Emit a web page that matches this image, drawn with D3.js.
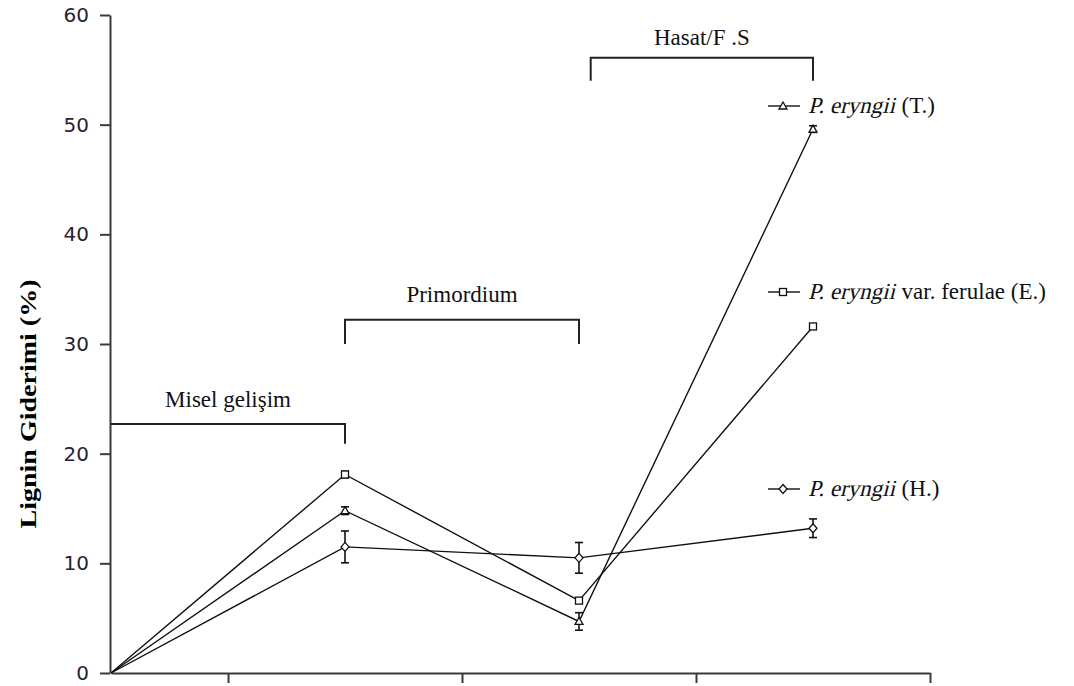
<!DOCTYPE html>
<html>
<head>
<meta charset="utf-8">
<script src="https://cdn.jsdelivr.net/npm/d3@7"></script>
<style>
  body { margin: 0; background: #fff; }
  svg { display: block; }
</style>
</head>
<body>
<div id="chart"></div>
<script>
// stages on the x axis (category index 0..3)
const stages = [0, 1, 2, 3];
const seriesT = [0, 14.8, 4.7, 49.6];
const errT = [0, 0.35, 0.8, 0.3];
const seriesE = [0, 18.1, 6.6, 31.6];
const errE = [0, 0.3, 0.2, 0.2];
const seriesH = [0, 11.5, 10.5, 13.2];
const errH = [0, 1.45, 1.4, 0.85];
const yTicks = [0, 10, 20, 30, 40, 50, 60];
const xTicks = [0.5, 1.5, 2.5, 3.5];

// stage brackets: from, to, top value, bottom value, label
const brackets = [
  {label: "Misel gelişim", x0: 0, x1: 1, top: 22.7, bottom: 20.9, leftDown: false, textY: 24.3},
  {label: "Primordium", x0: 1, x1: 2, top: 32.2, bottom: 30.0, leftDown: true, textY: 33.8},
  {label: "Hasat/F .S", x0: 2.05, x1: 3, top: 56.1, bottom: 54.0, leftDown: true, textY: 57.3}
];

const legendRows = [
  {name: "T", italic: "P. eryngii", rest: " (T.)", y: 106, marker: "triangle"},
  {name: "E", italic: "P. eryngii", rest: " var. ferulae (E.)", y: 292, marker: "square"},
  {name: "H", italic: "P. eryngii", rest: " (H.)", y: 489, marker: "diamond"}
];

const series = [
  {name: "T", values: seriesT, err: errT, marker: "triangle"},
  {name: "E", values: seriesE, err: errE, marker: "square"},
  {name: "H", values: seriesH, err: errH, marker: "diamond"}
];

const serif = "'Liberation Serif', 'Times New Roman', serif";

const W = 1074, H = 686;
const svg = d3.select("#chart").append("svg")
  .attr("width", W).attr("height", H)
  .style("background", "#fff");

const x = d3.scaleLinear().domain([0, 3.5]).range([111, 930]);
const y = d3.scaleLinear().domain([0, 60]).range([673, 15]);

// axes
const yAxis = svg.append("g")
  .attr("transform", "translate(110,0)")
  .call(d3.axisLeft(y).tickValues(yTicks).tickSize(10).tickPadding(11).tickSizeOuter(0));
yAxis.selectAll("text")
  .attr("font-family", "DejaVu Sans, Verdana, sans-serif")
  .attr("font-size", 20)
  .attr("fill", "#2a2230");

const xAxis = svg.append("g")
  .attr("transform", "translate(0,673)")
  .call(d3.axisBottom(x).tickValues(xTicks).tickSize(10).tickFormat("").tickSizeOuter(0));

svg.selectAll(".domain, .tick line")
  .attr("stroke", "#3a3a3a")
  .attr("stroke-width", 2);

// y axis title
svg.append("text")
  .attr("transform", `translate(36,${(279 + 529) / 2}) rotate(-90)`)
  .attr("text-anchor", "middle")
  .attr("font-family", serif)
  .attr("font-weight", "bold")
  .attr("font-size", 23)
  .attr("textLength", 249)
  .attr("lengthAdjust", "spacingAndGlyphs")
  .text("Lignin Giderimi (%)");

// stage brackets
const bg = svg.append("g")
  .attr("fill", "none")
  .attr("stroke", "#222")
  .attr("stroke-width", 2);
brackets.forEach(b => {
  let p = b.leftDown
    ? `M${x(b.x0)},${y(b.bottom)}V${y(b.top)}H${x(b.x1)}V${y(b.bottom)}`
    : `M${x(b.x0)},${y(b.top)}H${x(b.x1)}V${y(b.bottom)}`;
  bg.append("path").attr("d", p);
  svg.append("text")
    .attr("x", x((b.x0 + b.x1) / 2))
    .attr("y", y(b.textY))
    .attr("text-anchor", "middle")
    .attr("font-family", serif)
    .attr("font-size", 23)
    .attr("fill", "#111")
    .text(b.label);
});

// markers
function drawMarker(g, type, cx, cy) {
  if (type === "triangle") {
    g.append("path")
      .attr("d", `M${cx},${cy - 4}L${cx + 4},${cy + 3}L${cx - 4},${cy + 3}Z`);
  } else if (type === "square") {
    g.append("rect").attr("x", cx - 3.5).attr("y", cy - 3.5).attr("width", 7).attr("height", 7);
  } else {
    g.append("path")
      .attr("d", `M${cx},${cy - 4.5}L${cx + 4},${cy}L${cx},${cy + 4.5}L${cx - 4},${cy}Z`);
  }
}

const line = d3.line().x((d, i) => x(stages[i])).y(d => y(d));

series.forEach(s => {
  svg.append("path")
    .datum(s.values)
    .attr("d", line)
    .attr("fill", "none")
    .attr("stroke", "#111")
    .attr("stroke-width", 1.4);

  const eg = svg.append("g").attr("stroke", "#111").attr("stroke-width", 1.6);
  s.values.forEach((v, i) => {
    if (s.err[i] <= 0) return;
    const cx = x(stages[i]);
    eg.append("line").attr("x1", cx).attr("x2", cx).attr("y1", y(v - s.err[i])).attr("y2", y(v + s.err[i]));
    [v - s.err[i], v + s.err[i]].forEach(e => {
      eg.append("line").attr("x1", cx - 4).attr("x2", cx + 4).attr("y1", y(e)).attr("y2", y(e));
    });
  });

  const mg = svg.append("g").attr("fill", "#fff").attr("stroke", "#111").attr("stroke-width", 1.3);
  s.values.forEach((v, i) => {
    if (i === 0) return;
    drawMarker(mg, s.marker, x(stages[i]), y(v));
  });
});

// legend (italic part drawn as slanted serif so it stays Times-like)
legendRows.forEach(r => {
  svg.append("line")
    .attr("x1", 768).attr("x2", 800).attr("y1", r.y).attr("y2", r.y)
    .attr("stroke", "#111").attr("stroke-width", 1.4);
  const mg = svg.append("g").attr("fill", "#fff").attr("stroke", "#111").attr("stroke-width", 1.3);
  drawMarker(mg, r.marker, 783, r.y);
  const by = r.y + 7;
  const it = svg.append("text")
    .attr("transform", `translate(808,${by}) skewX(-14)`)
    .attr("font-family", serif)
    .attr("font-size", 23)
    .attr("fill", "#111")
    .text(r.italic);
  const w = it.node().getComputedTextLength();
  svg.append("text")
    .attr("x", 808 + w + 1).attr("y", by)
    .attr("font-family", serif)
    .attr("font-size", 23)
    .attr("fill", "#111")
    .attr("xml:space", "preserve")
    .style("white-space", "pre")
    .text(r.rest);
});
</script>
</body>
</html>
